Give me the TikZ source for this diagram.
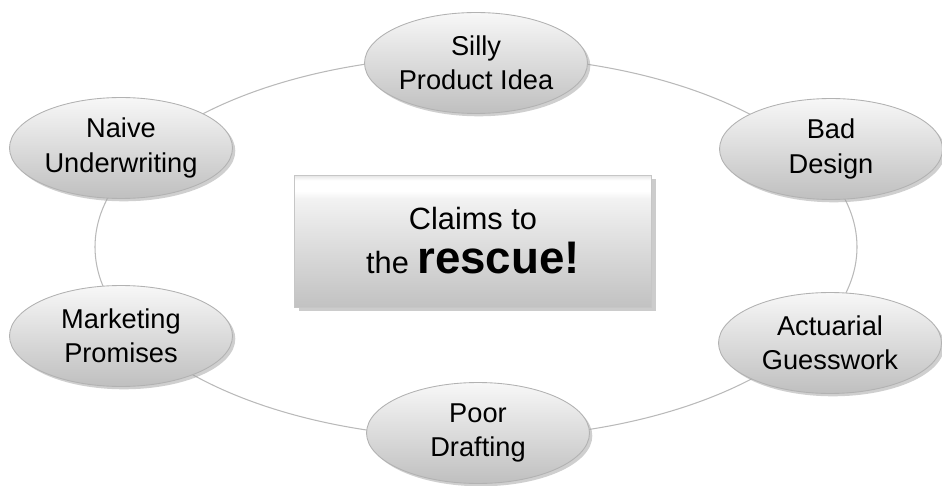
\documentclass[tikz,border=0pt]{standalone}
\usepackage{fontspec}
\setsansfont{Liberation Sans}
\usetikzlibrary{shapes.geometric, shadows}

% shading of the middle box: white strip near the top, grey towards the bottom
\pgfdeclareverticalshading{hubshade}{100bp}{%
  color(0bp)=(gray!48); color(25bp)=(gray!48); color(45bp)=(gray!30);
  color(66bp)=(gray!10); color(69bp)=(white); color(73bp)=(white);
  color(75bp)=(gray!22); color(100bp)=(gray!22)}

\tikzset{
  causebox/.style={ellipse, draw=gray!60, line width=0.5pt,
    top color=gray!6, middle color=gray!26, bottom color=gray!50,
    minimum width=4.46cm, minimum height=2.02cm, inner sep=0pt,
    align=center, font=\sffamily\fontsize{15.5}{19.5}\selectfont,
    drop shadow={shadow xshift=1.6pt, shadow yshift=-1.6pt, fill=gray!75}},
  hubbox/.style={rectangle, draw=gray!45, line width=0.5pt, shading=hubshade,
    minimum width=7.14cm, minimum height=2.64cm, inner sep=0pt,
    align=center, font=\sffamily\fontsize{17.5}{25}\selectfont,
    drop shadow={shadow xshift=2.4pt, shadow yshift=-2.4pt, fill=gray!80}},
  ring/.style={draw=gray!55, line width=0.6pt}
}

\begin{document}
\begin{tikzpicture}[x=0.02cm, y=-0.02cm]
        \useasboundingbox (0,0) rectangle (942,486);

        % draw the ring the causes sit on
        \coordinate (ringc) at (476,247);
        \draw[ring] (ringc) ellipse [x radius=381, y radius=191];

        % the six causes round the ring
        \foreach \name/\x/\y/\txt in {
            silly/476/63/{Silly\\Product Idea},
            bad/831/149/{Bad\\Design},
            actuarial/830/343/{Actuarial\\Guesswork},
            poor/478/433/{Poor\\Drafting},
            marketing/121/336/{Marketing\\Promises},
            naive/121/148/{Naive\\Underwriting}}
            \node[causebox] (\name) at (\x,\y) {\txt};

        % the middle box
        \node[hubbox] (hub) at (473,241)
            {Claims to\\the {\bfseries\fontsize{26}{25}\selectfont rescue!}};
    \end{tikzpicture}
\end{document}
